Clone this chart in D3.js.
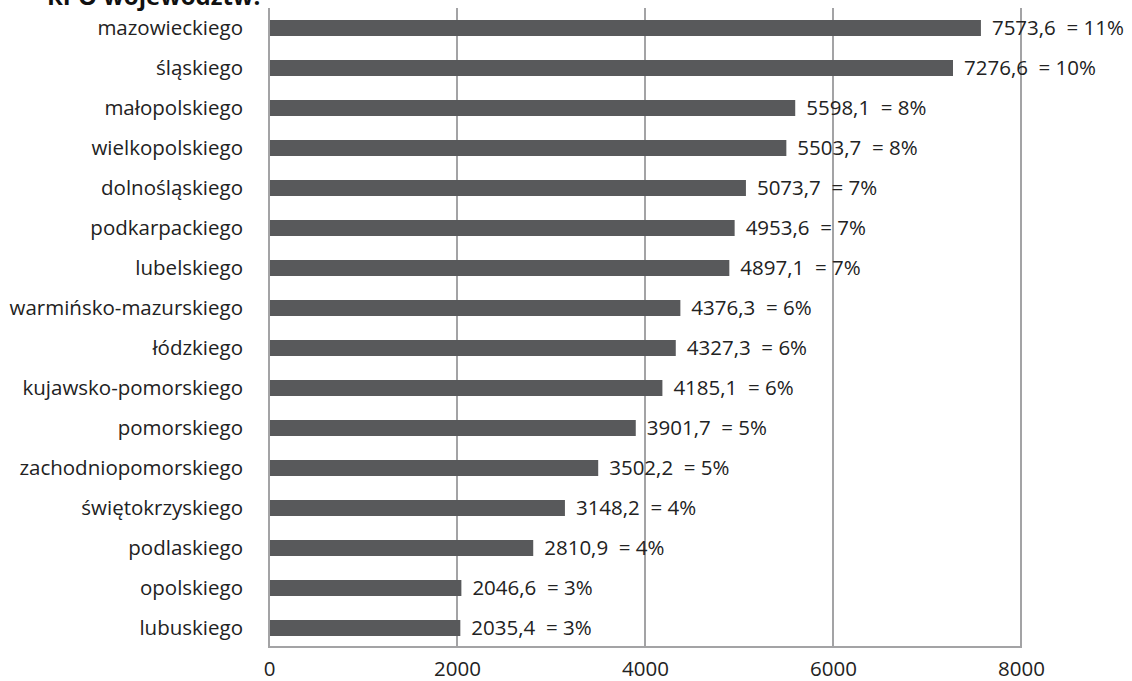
<!DOCTYPE html>
<html>
<head>
<meta charset="utf-8">
<script src="https://cdn.jsdelivr.net/npm/d3@7"></script>
<style>
  html, body { margin: 0; padding: 0; background: #fff; }
  svg { display: block; }
  text { font-family: "Open Sans", "Noto Sans", sans-serif; }
</style>
</head>
<body>
<svg id="chart" width="1132" height="681"></svg>
<script>
// Voivodeships (top to bottom) and their allocations
const regions = [
  "mazowieckiego", "śląskiego", "małopolskiego", "wielkopolskiego",
  "dolnośląskiego", "podkarpackiego", "lubelskiego", "warmińsko-mazurskiego",
  "łódzkiego", "kujawsko-pomorskiego", "pomorskiego", "zachodniopomorskiego",
  "świętokrzyskiego", "podlaskiego", "opolskiego", "lubuskiego"
];
const values = [
  7573.6, 7276.6, 5598.1, 5503.7, 5073.7, 4953.6, 4897.1, 4376.3,
  4327.3, 4185.1, 3901.7, 3502.2, 3148.2, 2810.9, 2046.6, 2035.4
];
const shares = [11, 10, 8, 8, 7, 7, 7, 6, 6, 6, 5, 5, 4, 4, 3, 3];
const xTicks = [0, 2000, 4000, 6000, 8000];
const title = "RPO województw:";

const svg = d3.select("#chart");
const margin = { top: 8, left: 269, right: 1021, bottom: 648 };
const fontSize = 20.5;

const x = d3.scaleLinear().domain([0, 8000]).range([margin.left, margin.right]);
const y = d3.scaleBand().domain(regions).range([margin.top, margin.bottom]).paddingInner(0.6).paddingOuter(0.3);

const gridColor = "#a3a3a5";
const barColor = "#58595b";

// vertical gridlines
svg.append("g").selectAll("line").data(xTicks).join("line")
  .attr("x1", d => x(d)).attr("x2", d => x(d))
  .attr("y1", margin.top).attr("y2", margin.bottom)
  .attr("stroke", gridColor).attr("stroke-width", 2);

// bottom axis line
svg.append("line")
  .attr("x1", x(0) - 1).attr("x2", x(8000) + 1)
  .attr("y1", margin.bottom - 1).attr("y2", margin.bottom - 1)
  .attr("stroke", gridColor).attr("stroke-width", 2);

// bars
svg.append("g").selectAll("rect").data(regions).join("rect")
  .attr("x", x(0) + 1)
  .attr("y", d => y(d))
  .attr("width", (d, i) => x(values[i]) - x(0) - 1)
  .attr("height", y.bandwidth())
  .attr("fill", barColor);

// value labels
const fmt = v => v.toFixed(1).replace(".", ",");
svg.append("g").selectAll("text").data(regions).join("text")
  .attr("x", (d, i) => x(values[i]) + 11)
  .attr("y", d => y(d) + y.bandwidth() / 2 + 2)
  .attr("dominant-baseline", "middle")
  .attr("font-size", fontSize)
  .attr("fill", "#222")
  .style("white-space", "pre")
  .text((d, i) => `${fmt(values[i])}  = ${shares[i]}%`);

// category axis
const yAxis = svg.append("g")
  .attr("transform", `translate(${margin.left},0)`)
  .call(d3.axisLeft(y).tickSize(0).tickPadding(26));
yAxis.select(".domain").remove();
yAxis.selectAll("text").attr("font-size", fontSize).attr("fill", "#222")
  .attr("font-family", "'Open Sans', sans-serif");

// value axis
const xAxis = svg.append("g")
  .attr("transform", `translate(0,${margin.bottom})`)
  .call(d3.axisBottom(x).tickValues(xTicks).tickSize(0).tickPadding(0).tickFormat(d3.format("d")));
xAxis.select(".domain").remove();
xAxis.selectAll("text").attr("font-size", fontSize).attr("fill", "#222")
  .attr("font-family", "'Open Sans', sans-serif")
  .attr("dy", null)
  .attr("y", 23)
  .attr("dominant-baseline", "middle");

// heading
svg.append("text")
  .attr("x", 47).attr("y", 5)
  .attr("font-size", 24).attr("font-weight", "bold").attr("fill", "#111")
  .text(title);
</script>
</body>
</html>
